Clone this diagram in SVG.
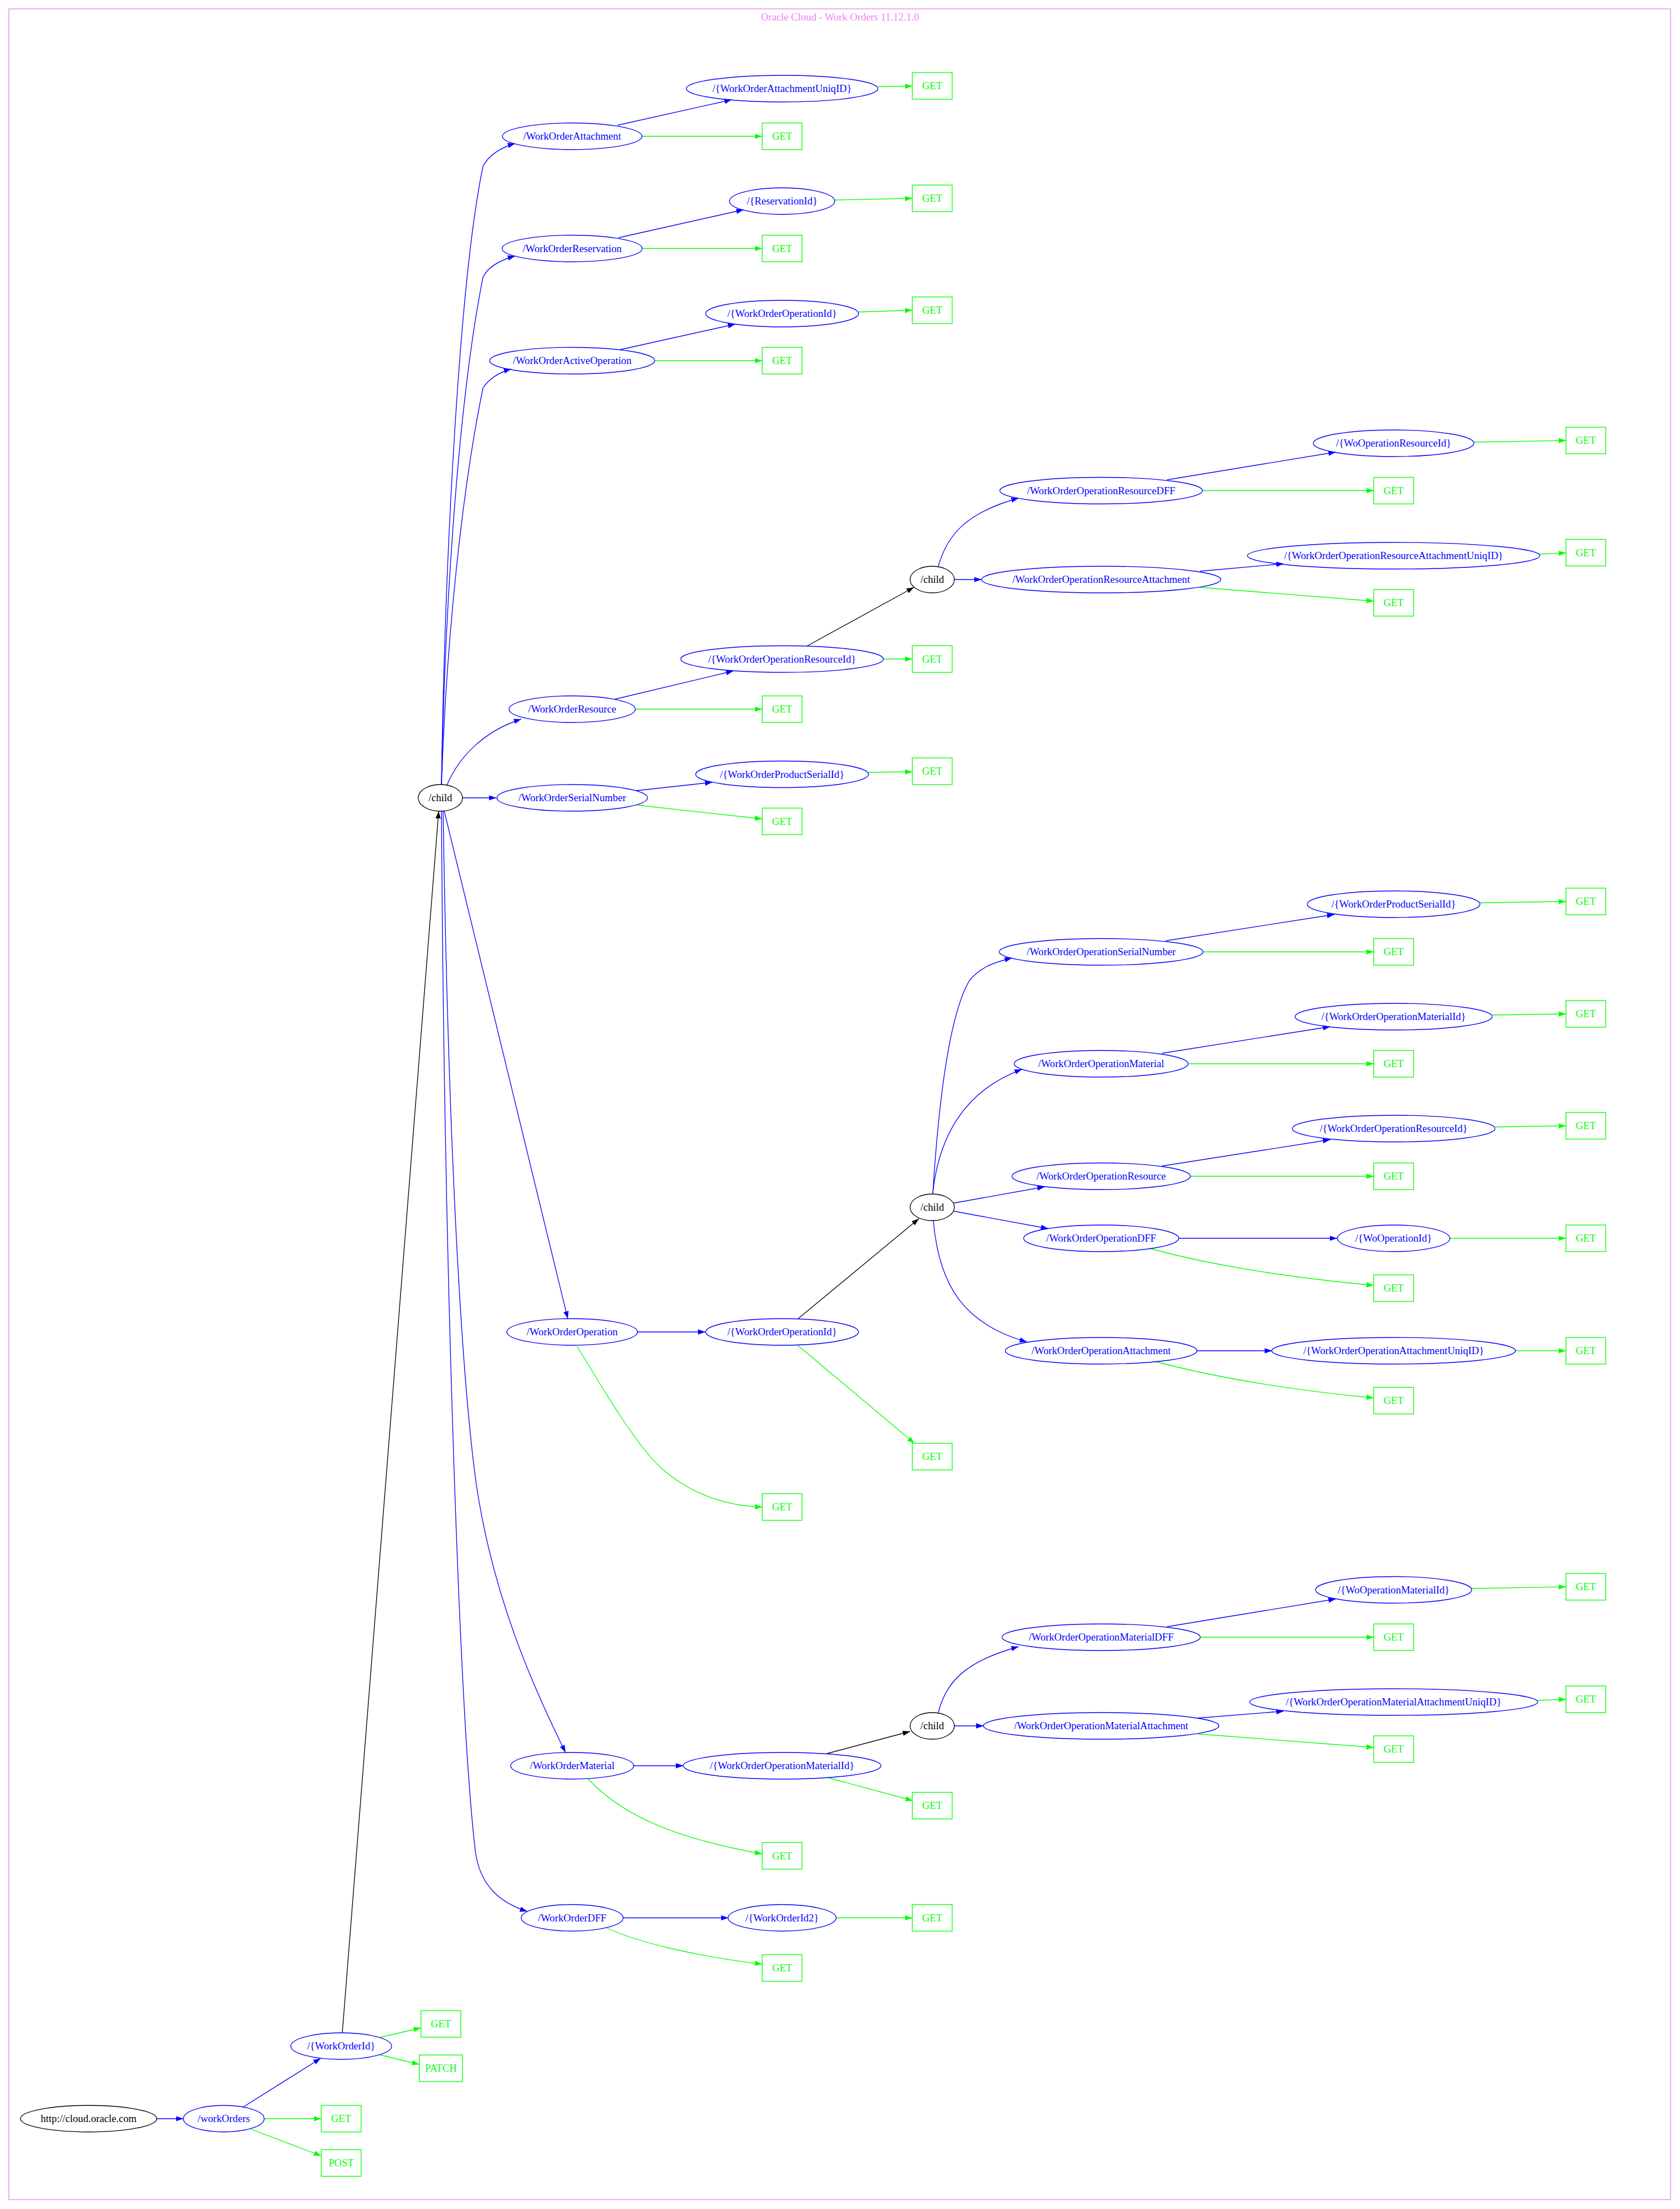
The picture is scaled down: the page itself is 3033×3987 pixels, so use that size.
<svg xmlns="http://www.w3.org/2000/svg" width="3033" height="3987" viewBox="0 0 3033 3987">
<style>
text{font-family:"Liberation Serif","Times New Roman",serif;font-size:18.67px;text-anchor:middle}
.r{fill:none;stroke:#0000ff;stroke-width:1.33}
.k{fill:none;stroke:#000000;stroke-width:1.33}
.m{fill:none;stroke:#00ff00;stroke-width:1.33}
.tr{fill:#0000ff}.tk{fill:#000000}.tm{fill:#00ff00}
.eb{fill:none;stroke:#0000ff;stroke-width:1.33;marker-end:url(#ab)}
.eg{fill:none;stroke:#00ff00;stroke-width:1.33;marker-end:url(#ag)}
.ek{fill:none;stroke:#000000;stroke-width:1.33;marker-end:url(#ak)}
</style>
<defs>
<marker id="ab" markerUnits="userSpaceOnUse" viewBox="0 0 13.3 9.4" markerWidth="13.3" markerHeight="9.4" refX="13.3" refY="4.7" orient="auto"><path d="M0,0L13.3,4.7L0,9.4Z" fill="#0000ff"/></marker>
<marker id="ag" markerUnits="userSpaceOnUse" viewBox="0 0 13.3 9.4" markerWidth="13.3" markerHeight="9.4" refX="13.3" refY="4.7" orient="auto"><path d="M0,0L13.3,4.7L0,9.4Z" fill="#00ff00"/></marker>
<marker id="ak" markerUnits="userSpaceOnUse" viewBox="0 0 13.3 9.4" markerWidth="13.3" markerHeight="9.4" refX="13.3" refY="4.7" orient="auto"><path d="M0,0L13.3,4.7L0,9.4Z" fill="#000000"/></marker>
</defs>
<rect width="3033" height="3987" fill="#ffffff"/>
<g id="frame">
<rect x="16" y="16" width="3000" height="3954" fill="none" stroke="#ee82ee" stroke-width="1.33"/>
<text x="1516.5" y="37" fill="#ee82ee">Oracle Cloud - Work Orders 11.12.1.0</text>
</g>
<g id="edges">
<path class="eb" d="M283,3824L331,3824"/>
<path class="eg" d="M477,3824L580,3824"/>
<path class="eg" d="M453,3843L580,3891"/>
<path class="eb" d="M439,3803L579,3715"/>
<path class="eg" d="M687,3677L760,3660"/>
<path class="eg" d="M687,3709L757,3726"/>
<path class="ek" d="M618,3669L792,1464"/>
<path class="eb" d="M835,1440L896,1440"/>
<path class="eb" d="M807,1417C830,1362 878,1318 941,1298"/>
<path class="eb" d="M797,1416C803,1000 830,500 872,300C882,280 905,266 930,259"/>
<path class="eb" d="M797,1416C804,1050 832,700 872,500C882,480 905,469 930,462"/>
<path class="eb" d="M797,1416C806,1150 835,880 872,700C882,685 900,672 923,666"/>
<path class="eb" d="M802,1464L1025,2380"/>
<path class="eb" d="M800,1464C810,2100 835,2500 860,2680C890,2880 960,3040 1021,3163"/>
<path class="eb" d="M797,1464C802,2300 830,3100 858,3340C866,3405 905,3435 952,3450"/>
<path class="eb" d="M1149,1427L1286,1412"/>
<path class="eg" d="M1149,1453L1376,1478"/>
<path class="eg" d="M1568,1394L1647,1393"/>
<path class="eb" d="M1110,1262L1324,1211"/>
<path class="eg" d="M1147,1280L1376,1280"/>
<path class="eg" d="M1595,1189.5L1647,1189.5"/>
<path class="ek" d="M1457,1166L1650,1060"/>
<path class="eb" d="M1694,1022C1710,965 1745,925 1839,899"/>
<path class="eb" d="M1722.5,1046L1772,1046"/>
<path class="eb" d="M2107,866L2411.5,816"/>
<path class="eg" d="M2171,885.5L2480,885.5"/>
<path class="eg" d="M2661,798L2827,795"/>
<path class="eb" d="M2166.5,1031L2317.5,1017.5"/>
<path class="eg" d="M2165,1060L2480,1085"/>
<path class="eg" d="M2780,1000L2827,998"/>
<path class="eb" d="M1115,226L1321,180"/>
<path class="eg" d="M1158.5,246L1376,246"/>
<path class="eg" d="M1585,156.5L1647,155.5"/>
<path class="eb" d="M1117,429L1342.5,378.5"/>
<path class="eg" d="M1159,448.5L1376,448.5"/>
<path class="eg" d="M1507,361L1647,358"/>
<path class="eb" d="M1120,631L1327.5,585"/>
<path class="eg" d="M1182,651L1376,651"/>
<path class="eg" d="M1550,563L1647,560"/>
<path class="eb" d="M1150,2404L1273.5,2404"/>
<path class="eg" d="M1042,2430C1090,2510 1150,2610 1194,2650C1240,2690 1300,2718 1376,2720"/>
<path class="eg" d="M1440,2428L1651,2605"/>
<path class="ek" d="M1441,2380L1659,2199.5"/>
<path class="eb" d="M1684,2155C1695,1980 1715,1830 1750,1770C1770,1745 1795,1737 1827,1729"/>
<path class="eb" d="M1684,2153C1694,2060 1735,1970 1845,1930"/>
<path class="eb" d="M1721.5,2171.5L1886,2142"/>
<path class="eb" d="M1721.5,2186L1892.5,2217.5"/>
<path class="eb" d="M1685,2203C1695,2320 1740,2390 1854,2422"/>
<path class="eb" d="M2104.5,1698L2409,1650.5"/>
<path class="eg" d="M2172,1718L2480,1718"/>
<path class="eg" d="M2672,1629.5L2827,1627"/>
<path class="eb" d="M2098,1901L2401.5,1853"/>
<path class="eg" d="M2145.5,1920L2480,1920"/>
<path class="eg" d="M2694,1832L2827,1830"/>
<path class="eb" d="M2098,2104.5L2401.5,2057"/>
<path class="eg" d="M2149,2123L2480,2123"/>
<path class="eg" d="M2698.5,2034L2827,2032"/>
<path class="eb" d="M2128,2235L2414,2235"/>
<path class="eg" d="M2075,2253C2180,2282 2320,2305 2480,2320"/>
<path class="eg" d="M2617,2235L2827,2235"/>
<path class="eb" d="M2161,2438L2296.5,2438"/>
<path class="eg" d="M2084,2457C2190,2485 2320,2508 2480,2523"/>
<path class="eg" d="M2736,2438L2827,2438"/>
<path class="eb" d="M1143.5,3187L1233.5,3187"/>
<path class="eg" d="M1061,3210C1115,3268 1200,3315 1376,3346"/>
<path class="eg" d="M1493,3208L1648,3250"/>
<path class="ek" d="M1493,3165L1643,3125"/>
<path class="eb" d="M1694,3091C1708,3034 1745,2998 1839,2972"/>
<path class="eb" d="M1722.5,3115L1775.5,3115"/>
<path class="eb" d="M2107,2936L2411.5,2886"/>
<path class="eg" d="M2167.5,2955L2480,2955"/>
<path class="eg" d="M2656.5,2867L2827,2864"/>
<path class="eb" d="M2162,3101L2317.5,3088.5"/>
<path class="eg" d="M2162,3129.5L2480,3154"/>
<path class="eg" d="M2776,3069L2827,3067"/>
<path class="eb" d="M1125,3461.5L1315,3461.5"/>
<path class="eg" d="M1096,3480C1150,3505 1250,3530 1376,3545"/>
<path class="eg" d="M1510,3461.5L1647,3461.5"/>
</g>
<g id="n0"><ellipse class="k" cx="160" cy="3824" rx="123" ry="24"/><text class="tk" x="160" y="3830">http://cloud.oracle.com</text></g>
<g id="n1"><ellipse class="r" cx="404" cy="3824" rx="73" ry="24"/><text class="tr" x="404" y="3830">/workOrders</text></g>
<g id="n2"><rect class="m" x="580" y="3800" width="72" height="48"/><text class="tm" x="616" y="3830">GET</text></g>
<g id="n3"><rect class="m" x="580" y="3880" width="72" height="48"/><text class="tm" x="616" y="3910">POST</text></g>
<g id="n4"><ellipse class="r" cx="616" cy="3693" rx="91" ry="24"/><text class="tr" x="616" y="3699">/{WorkOrderId}</text></g>
<g id="n5"><rect class="m" x="760" y="3629" width="72" height="48"/><text class="tm" x="796" y="3659">GET</text></g>
<g id="n6"><rect class="m" x="757" y="3709" width="78" height="48"/><text class="tm" x="796" y="3739">PATCH</text></g>
<g id="n7"><ellipse class="k" cx="795" cy="1440" rx="40" ry="24"/><text class="tk" x="795" y="1446">/child</text></g>
<g id="n8"><ellipse class="r" cx="1033" cy="246" rx="126" ry="24"/><text class="tr" x="1033" y="252">/WorkOrderAttachment</text></g>
<g id="n9"><ellipse class="r" cx="1412" cy="160" rx="173" ry="24"/><text class="tr" x="1412" y="166">/{WorkOrderAttachmentUniqID}</text></g>
<g id="n10"><rect class="m" x="1647" y="131" width="72" height="48"/><text class="tm" x="1683" y="161">GET</text></g>
<g id="n11"><rect class="m" x="1376" y="222" width="72" height="48"/><text class="tm" x="1412" y="252">GET</text></g>
<g id="n12"><ellipse class="r" cx="1033" cy="448.5" rx="126.5" ry="24"/><text class="tr" x="1033" y="454.5">/WorkOrderReservation</text></g>
<g id="n13"><ellipse class="r" cx="1412" cy="363" rx="95" ry="24"/><text class="tr" x="1412" y="369">/{ReservationId}</text></g>
<g id="n14"><rect class="m" x="1647" y="334" width="72" height="48"/><text class="tm" x="1683" y="364">GET</text></g>
<g id="n15"><rect class="m" x="1376" y="424.5" width="72" height="48"/><text class="tm" x="1412" y="454.5">GET</text></g>
<g id="n16"><ellipse class="r" cx="1033" cy="651" rx="149" ry="24"/><text class="tr" x="1033" y="657">/WorkOrderActiveOperation</text></g>
<g id="n17"><ellipse class="r" cx="1412" cy="566" rx="138" ry="24"/><text class="tr" x="1412" y="572">/{WorkOrderOperationId}</text></g>
<g id="n18"><rect class="m" x="1647" y="536" width="72" height="48"/><text class="tm" x="1683" y="566">GET</text></g>
<g id="n19"><rect class="m" x="1376" y="627" width="72" height="48"/><text class="tm" x="1412" y="657">GET</text></g>
<g id="n20"><ellipse class="r" cx="1033" cy="1280" rx="114" ry="24"/><text class="tr" x="1033" y="1286">/WorkOrderResource</text></g>
<g id="n21"><ellipse class="r" cx="1412" cy="1189.5" rx="183" ry="24"/><text class="tr" x="1412" y="1195.5">/{WorkOrderOperationResourceId}</text></g>
<g id="n22"><rect class="m" x="1647" y="1165.5" width="72" height="48"/><text class="tm" x="1683" y="1195.5">GET</text></g>
<g id="n23"><rect class="m" x="1376" y="1256" width="72" height="48"/><text class="tm" x="1412" y="1286">GET</text></g>
<g id="n24"><ellipse class="k" cx="1683" cy="1046" rx="40" ry="24"/><text class="tk" x="1683" y="1052">/child</text></g>
<g id="n25"><ellipse class="r" cx="1988" cy="885.5" rx="183" ry="24"/><text class="tr" x="1988" y="891.5">/WorkOrderOperationResourceDFF</text></g>
<g id="n26"><ellipse class="r" cx="2516" cy="800" rx="145" ry="24"/><text class="tr" x="2516" y="806">/{WoOperationResourceId}</text></g>
<g id="n27"><rect class="m" x="2827" y="771" width="72" height="48"/><text class="tm" x="2863" y="801">GET</text></g>
<g id="n28"><rect class="m" x="2480" y="861.5" width="72" height="48"/><text class="tm" x="2516" y="891.5">GET</text></g>
<g id="n29"><ellipse class="r" cx="1988" cy="1046" rx="216" ry="24"/><text class="tr" x="1988" y="1052">/WorkOrderOperationResourceAttachment</text></g>
<g id="n30"><ellipse class="r" cx="2516" cy="1003" rx="264" ry="24"/><text class="tr" x="2516" y="1009">/{WorkOrderOperationResourceAttachmentUniqID}</text></g>
<g id="n31"><rect class="m" x="2827" y="973.5" width="72" height="48"/><text class="tm" x="2863" y="1003.5">GET</text></g>
<g id="n32"><rect class="m" x="2480" y="1064" width="72" height="48"/><text class="tm" x="2516" y="1094">GET</text></g>
<g id="n33"><ellipse class="r" cx="1033" cy="1440" rx="136" ry="24"/><text class="tr" x="1033" y="1446">/WorkOrderSerialNumber</text></g>
<g id="n34"><ellipse class="r" cx="1412" cy="1397.5" rx="156" ry="24"/><text class="tr" x="1412" y="1403.5">/{WorkOrderProductSerialId}</text></g>
<g id="n35"><rect class="m" x="1647" y="1368" width="72" height="48"/><text class="tm" x="1683" y="1398">GET</text></g>
<g id="n36"><rect class="m" x="1376" y="1458.5" width="72" height="48"/><text class="tm" x="1412" y="1488.5">GET</text></g>
<g id="n37"><ellipse class="r" cx="1033" cy="2404" rx="118" ry="24"/><text class="tr" x="1033" y="2410">/WorkOrderOperation</text></g>
<g id="n38"><ellipse class="r" cx="1412" cy="2404" rx="138" ry="24"/><text class="tr" x="1412" y="2410">/{WorkOrderOperationId}</text></g>
<g id="n39"><rect class="m" x="1647" y="2605" width="72" height="48"/><text class="tm" x="1683" y="2635">GET</text></g>
<g id="n40"><rect class="m" x="1376" y="2696" width="72" height="48"/><text class="tm" x="1412" y="2726">GET</text></g>
<g id="n41"><ellipse class="k" cx="1683" cy="2179" rx="40" ry="24"/><text class="tk" x="1683" y="2185">/child</text></g>
<g id="n42"><ellipse class="r" cx="1988" cy="1718" rx="184" ry="24"/><text class="tr" x="1988" y="1724">/WorkOrderOperationSerialNumber</text></g>
<g id="n43"><ellipse class="r" cx="2516" cy="1632" rx="156" ry="24"/><text class="tr" x="2516" y="1638">/{WorkOrderProductSerialId}</text></g>
<g id="n44"><rect class="m" x="2827" y="1603" width="72" height="48"/><text class="tm" x="2863" y="1633">GET</text></g>
<g id="n45"><rect class="m" x="2480" y="1694" width="72" height="48"/><text class="tm" x="2516" y="1724">GET</text></g>
<g id="n46"><ellipse class="r" cx="1988" cy="1920" rx="157" ry="24"/><text class="tr" x="1988" y="1926">/WorkOrderOperationMaterial</text></g>
<g id="n47"><ellipse class="r" cx="2516" cy="1835" rx="178" ry="24"/><text class="tr" x="2516" y="1841">/{WorkOrderOperationMaterialId}</text></g>
<g id="n48"><rect class="m" x="2827" y="1806" width="72" height="48"/><text class="tm" x="2863" y="1836">GET</text></g>
<g id="n49"><rect class="m" x="2480" y="1896" width="72" height="48"/><text class="tm" x="2516" y="1926">GET</text></g>
<g id="n50"><ellipse class="r" cx="1988" cy="2123" rx="161" ry="24"/><text class="tr" x="1988" y="2129">/WorkOrderOperationResource</text></g>
<g id="n51"><ellipse class="r" cx="2516" cy="2037" rx="183" ry="24"/><text class="tr" x="2516" y="2043">/{WorkOrderOperationResourceId}</text></g>
<g id="n52"><rect class="m" x="2827" y="2008" width="72" height="48"/><text class="tm" x="2863" y="2038">GET</text></g>
<g id="n53"><rect class="m" x="2480" y="2099" width="72" height="48"/><text class="tm" x="2516" y="2129">GET</text></g>
<g id="n54"><ellipse class="r" cx="1988" cy="2235" rx="140" ry="24"/><text class="tr" x="1988" y="2241">/WorkOrderOperationDFF</text></g>
<g id="n55"><ellipse class="r" cx="2516" cy="2235" rx="101.5" ry="24"/><text class="tr" x="2516" y="2241">/{WoOperationId}</text></g>
<g id="n56"><rect class="m" x="2827" y="2211" width="72" height="48"/><text class="tm" x="2863" y="2241">GET</text></g>
<g id="n57"><rect class="m" x="2480" y="2301" width="72" height="48"/><text class="tm" x="2516" y="2331">GET</text></g>
<g id="n58"><ellipse class="r" cx="1988" cy="2438" rx="173" ry="24"/><text class="tr" x="1988" y="2444">/WorkOrderOperationAttachment</text></g>
<g id="n59"><ellipse class="r" cx="2516" cy="2438" rx="220" ry="24"/><text class="tr" x="2516" y="2444">/{WorkOrderOperationAttachmentUniqID}</text></g>
<g id="n60"><rect class="m" x="2827" y="2414" width="72" height="48"/><text class="tm" x="2863" y="2444">GET</text></g>
<g id="n61"><rect class="m" x="2480" y="2504" width="72" height="48"/><text class="tm" x="2516" y="2534">GET</text></g>
<g id="n62"><ellipse class="r" cx="1033" cy="3187" rx="111" ry="24"/><text class="tr" x="1033" y="3193">/WorkOrderMaterial</text></g>
<g id="n63"><ellipse class="r" cx="1412" cy="3187" rx="178.5" ry="24"/><text class="tr" x="1412" y="3193">/{WorkOrderOperationMaterialId}</text></g>
<g id="n64"><rect class="m" x="1647" y="3235" width="72" height="48"/><text class="tm" x="1683" y="3265">GET</text></g>
<g id="n65"><rect class="m" x="1376" y="3325.5" width="72" height="48"/><text class="tm" x="1412" y="3355.5">GET</text></g>
<g id="n66"><ellipse class="k" cx="1683" cy="3115" rx="40" ry="24"/><text class="tk" x="1683" y="3121">/child</text></g>
<g id="n67"><ellipse class="r" cx="1988" cy="2955" rx="179" ry="24"/><text class="tr" x="1988" y="2961">/WorkOrderOperationMaterialDFF</text></g>
<g id="n68"><ellipse class="r" cx="2516" cy="2869.5" rx="141" ry="24"/><text class="tr" x="2516" y="2875.5">/{WoOperationMaterialId}</text></g>
<g id="n69"><rect class="m" x="2827" y="2840" width="72" height="48"/><text class="tm" x="2863" y="2870">GET</text></g>
<g id="n70"><rect class="m" x="2480" y="2931" width="72" height="48"/><text class="tm" x="2516" y="2961">GET</text></g>
<g id="n71"><ellipse class="r" cx="1988" cy="3115" rx="212.5" ry="24"/><text class="tr" x="1988" y="3121">/WorkOrderOperationMaterialAttachment</text></g>
<g id="n72"><ellipse class="r" cx="2516" cy="3072" rx="260" ry="24"/><text class="tr" x="2516" y="3078">/{WorkOrderOperationMaterialAttachmentUniqID}</text></g>
<g id="n73"><rect class="m" x="2827" y="3043" width="72" height="48"/><text class="tm" x="2863" y="3073">GET</text></g>
<g id="n74"><rect class="m" x="2480" y="3133" width="72" height="48"/><text class="tm" x="2516" y="3163">GET</text></g>
<g id="n75"><ellipse class="r" cx="1033" cy="3461.5" rx="92" ry="24"/><text class="tr" x="1033" y="3467.5">/WorkOrderDFF</text></g>
<g id="n76"><ellipse class="r" cx="1412" cy="3461.5" rx="97.5" ry="24"/><text class="tr" x="1412" y="3467.5">/{WorkOrderId2}</text></g>
<g id="n77"><rect class="m" x="1647" y="3437.5" width="72" height="48"/><text class="tm" x="1683" y="3467.5">GET</text></g>
<g id="n78"><rect class="m" x="1376" y="3528" width="72" height="48"/><text class="tm" x="1412" y="3558">GET</text></g>
</svg>
